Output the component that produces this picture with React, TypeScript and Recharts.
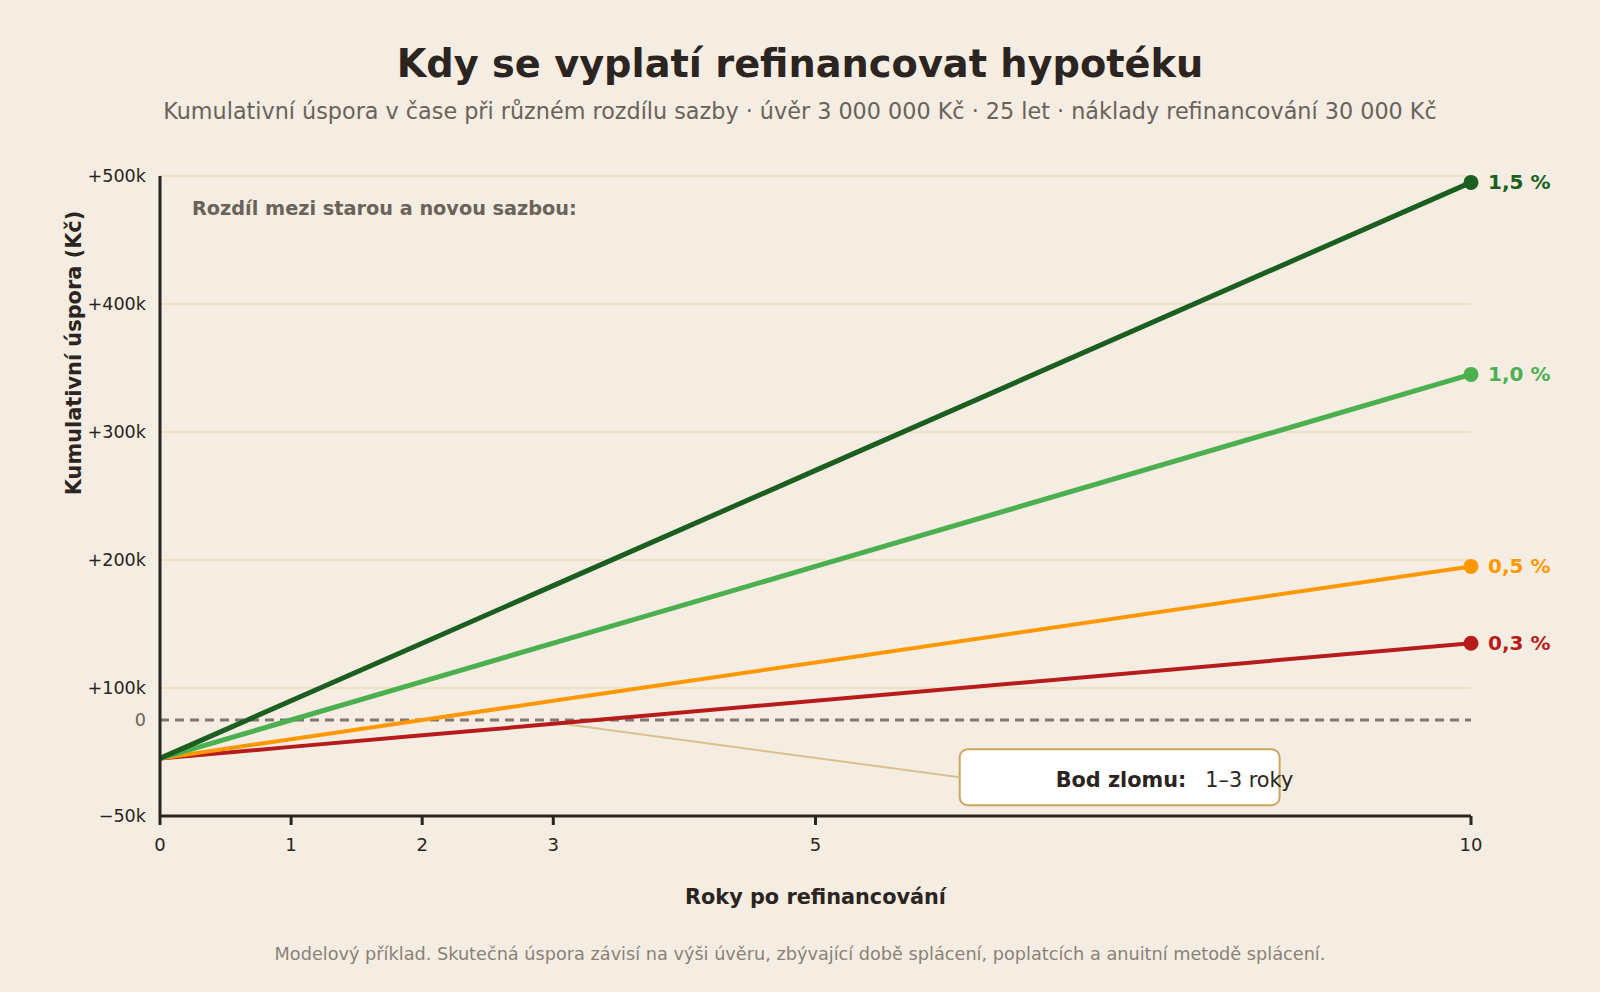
import React from 'react';
import { LineChart, Line, XAxis, YAxis, ReferenceLine, ReferenceArea, Label } from 'recharts';

// Roky po refinancování
const years = [0, 1, 2, 3, 5, 10];

// Kumulativní úspora (Kč) pro jednotlivé rozdíly sazby
const saving15 = [-30000, 15000, 60000, 105000, 195000, 420000];
const saving10 = [-30000, 0, 30000, 60000, 120000, 270000];
const saving05 = [-30000, -15000, 0, 15000, 45000, 120000];
const saving03 = [-30000, -21000, -12000, -3000, 15000, 60000];

// Popisky osy Y tak, jak jsou v originálu
const yTicks = [-75000, 0, 25000, 125000, 225000, 325000, 425000];
const yTickLabels = ['−50k', '0', '+100k', '+200k', '+300k', '+400k', '+500k'];
const gridValues = [25000, 125000, 225000, 325000, 425000];

const series = [
  { key: 's03', label: '0,3 %', color: '#b71c1c', width: 4 },
  { key: 's05', label: '0,5 %', color: '#ff9800', width: 4 },
  { key: 's10', label: '1,0 %', color: '#4caf50', width: 5 },
  { key: 's15', label: '1,5 %', color: '#1b5e20', width: 5 },
];

const data = years.map((year, i) => ({
  year,
  s15: saving15[i],
  s10: saving10[i],
  s05: saving05[i],
  s03: saving03[i],
}));

const FONT = '"DejaVu Sans", sans-serif';
const DARK = '#2b2420';
const MUTED = '#6b625a';

const makeDot = (color: string, label: string) => (props: any) => {
  const { cx, cy, index } = props;
  if (index !== years.length - 1) return <g key={`dot-${label}-${index}`} />;
  return (
    <g key={`dot-${label}-${index}`}>
      <circle cx={cx} cy={cy} r={7.5} fill={color} />
      <text x={cx + 17} y={cy} dominantBaseline="central" fill={color} fontSize={20} fontWeight="bold" fontFamily={FONT}>
        {label}
      </text>
    </g>
  );
};

const YTick = (props: any) => {
  const { x, y, payload } = props;
  const idx = yTicks.indexOf(payload.value);
  return (
    <text x={x} y={y} textAnchor="end" dominantBaseline="central" fontSize={17.6} fontFamily={FONT}
      fill={payload.value === 0 ? MUTED : DARK}>
      {yTickLabels[idx]}
    </text>
  );
};

export default function App() {
  return (
    <div style={{ position: 'absolute', left: 0, top: 0, width: 1600, height: 992, background: '#f5ede1', fontFamily: FONT }}>
      <div style={{ position: 'absolute', left: 0, width: 1600, top: 40, textAlign: 'center', fontSize: 38.3, fontWeight: 'bold', color: DARK, lineHeight: '48px' }}>
        Kdy se vyplatí refinancovat hypotéku
      </div>
      <div style={{ position: 'absolute', left: 0, width: 1600, top: 96, textAlign: 'center', fontSize: 22.3, color: MUTED, lineHeight: '30px' }}>
        Kumulativní úspora v čase při různém rozdílu sazby · úvěr 3 000 000 Kč · 25 let · náklady refinancování 30 000 Kč
      </div>
      <div style={{ position: 'absolute', left: 192, top: 197, fontSize: 19.3, fontWeight: 'bold', color: MUTED, lineHeight: '24px', zIndex: 2 }}>
        Rozdíl mezi starou a novou sazbou:
      </div>
      <div style={{ position: 'absolute', left: 0, width: 1600, top: 942, textAlign: 'center', fontSize: 17.7, color: '#8a8178', lineHeight: '24px' }}>
        Modelový příklad. Skutečná úspora závisí na výši úvěru, zbývající době splácení, poplatcích a anuitní metodě splácení.
      </div>
      <div style={{ position: 'absolute', left: 0, top: 0 }}>
        <LineChart width={1600} height={992} data={data} margin={{ top: 176, right: 129, bottom: 0, left: 0 }}>
          {gridValues.map((v) => (
            <ReferenceLine key={`g-${v}`} y={v} stroke="#efe0c8" strokeWidth={2} />
          ))}
          <ReferenceLine y={0} stroke="#7f7770" strokeWidth={3} strokeDasharray="9 6" />
          <ReferenceLine segment={[{ x: 3, y: -2000 }, { x: 6.1, y: -44800 }]} stroke="#d9c08f" strokeWidth={2} />
          <XAxis
            dataKey="year"
            type="number"
            domain={[0, 10]}
            ticks={years}
            height={176}
            axisLine={{ stroke: DARK, strokeWidth: 3 }}
            tickLine={{ stroke: DARK, strokeWidth: 3 }}
            tickSize={9}
            tickMargin={13}
            tick={{ fill: DARK, fontSize: 18, fontFamily: FONT }}
          >
            <Label
              content={({ viewBox }: any) => (
                <text x={viewBox.x + viewBox.width / 2} y={viewBox.y + 81} textAnchor="middle" dominantBaseline="central"
                  fontSize={20.8} fontWeight="bold" fill={DARK} fontFamily={FONT}>
                  Roky po refinancování
                </text>
              )}
            />
          </XAxis>
          <YAxis
            type="number"
            domain={[-75000, 425000]}
            ticks={yTicks}
            width={160}
            axisLine={{ stroke: DARK, strokeWidth: 3 }}
            tickLine={false}
            tickSize={0}
            tickMargin={14}
            tick={<YTick />}
          >
            <Label
              content={({ viewBox }: any) => (
                <text x={73.5} y={viewBox.y + 177} textAnchor="middle" dominantBaseline="central"
                  transform={`rotate(-90 73.5 ${viewBox.y + 177})`}
                  fontSize={20.9} fontWeight="bold" fill={DARK} fontFamily={FONT}>
                  Kumulativní úspora (Kč)
                </text>
              )}
            />
          </YAxis>
          {series.map((s) => (
            <Line
              key={s.key}
              type="linear"
              dataKey={s.key}
              stroke={s.color}
              strokeWidth={s.width}
              dot={makeDot(s.color, s.label)}
              activeDot={false}
              isAnimationActive={false}
            />
          ))}
          <ReferenceArea
            x1={6.1}
            x2={8.54}
            y1={-66600}
            y2={-22900}
            ifOverflow="visible"
            shape={(p: any) => (
              <rect x={p.x} y={p.y} width={p.width} height={p.height} rx={8} ry={8} fill="#ffffff" stroke="#c9a55f" strokeWidth={2} />
            )}
          >
            <Label
              content={({ viewBox }: any) => (
                <text x={viewBox.x + 96} y={viewBox.y + viewBox.height / 2 + 3} dominantBaseline="central" fontSize={20.8}
                  fill={DARK} fontFamily={FONT}>
                  <tspan fontWeight="bold">Bod zlomu:</tspan>
                  <tspan dx={19}>1–3 roky</tspan>
                </text>
              )}
            />
          </ReferenceArea>
        </LineChart>
      </div>
    </div>
  );
}
